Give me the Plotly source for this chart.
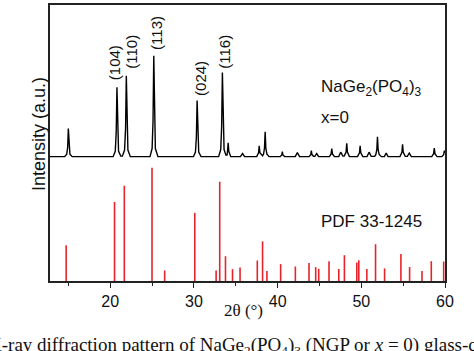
import plotly.graph_objects as go

xrd_2theta = [
    12.8, 14.55, 14.80, 14.91, 14.99, 15.07, 15.18, 15.45,
    20.35, 20.60, 20.71, 20.80, 20.88, 20.99, 21.25,
    21.45, 21.71, 21.83, 21.92, 22.00, 22.11, 22.40,
    24.75, 25.00, 25.11, 25.20, 25.28, 25.39, 25.70,
    29.95, 30.18, 30.29, 30.38, 30.46, 30.57, 30.85,
    32.95, 33.20, 33.31, 33.40, 33.48, 33.60, 33.82,
    33.95, 34.01, 34.09, 34.17, 34.40,
    35.55, 35.81, 36.05,
    37.50, 37.72, 37.80, 37.88, 38.12,
    38.20, 38.32, 38.43, 38.51, 38.59, 38.72, 38.98,
    40.30, 40.50, 40.56, 40.63, 40.85,
    42.10, 42.36, 42.62,
    43.75, 43.96, 44.03, 44.10, 44.30,
    44.45, 44.67, 44.90,
    46.18, 46.39, 46.47, 46.55, 46.78,
    47.30, 47.54, 47.80,
    47.95, 48.18, 48.26, 48.34, 48.58,
    49.55, 49.78, 49.86, 49.94, 50.18,
    50.68, 50.93, 51.18,
    51.60, 51.74, 51.85, 51.93, 52.01, 52.13, 52.40,
    52.75, 52.97, 53.20,
    54.62, 54.85, 54.93, 55.01, 55.25,
    55.50, 55.73, 55.98,
    58.42, 58.64, 58.72, 58.80, 59.05,
    59.62, 59.84, 59.92, 60.00,
]
xrd_intensity = [
    0, 0, 2.5, 9.0, 27.9, 9.0, 2.5, 0,
    0, 5.5, 24, 68.8, 24, 5.5, 0.5,
    0.5, 6.5, 28, 80.0, 28, 6.5, 0,
    0, 8, 35, 100, 35, 8, 0,
    0, 4.5, 19.5, 55.5, 19.5, 4.5, 0,
    0, 7, 29, 83.3, 29, 7, 1.5,
    1.5, 5, 13.8, 5, 0,
    0, 3, 0,
    0, 3.8, 10.8, 3.8, 0.8,
    0.8, 2.5, 8.5, 24.6, 8.5, 2.5, 0,
    0, 1.7, 4.9, 1.7, 0,
    0, 3.9, 0,
    0, 2, 5.9, 2, 0.3,
    0.3, 3, 0,
    0, 2.7, 7.9, 2.7, 0,
    0, 4.4, 0.5,
    0.5, 4.6, 13.3, 4.6, 0,
    0, 3.8, 10.8, 3.8, 0,
    0, 4.4, 0.3,
    0.3, 2.2, 6.8, 19.7, 6.8, 2.2, 0,
    0, 3.4, 0,
    0, 4.3, 12.3, 4.3, 0.3,
    0.3, 3.4, 0,
    0, 2.9, 8.4, 2.9, 0,
    0, 2, 5.9, 3.5,
]

# ---- reference card PDF 33-1245 (stick pattern) ----
pdf_2theta = [14.73, 20.51, 21.68, 24.99, 26.50, 30.10, 32.65, 33.08, 33.77, 34.61,
              35.51, 37.57, 38.20, 38.72, 40.36, 42.12, 43.75, 44.55, 44.91, 46.14,
              47.31, 47.98, 49.46, 49.70, 50.66, 51.70, 52.78, 54.73, 55.77, 57.25,
              58.36, 59.84]
pdf_intensity = [31.6, 69.8, 84.2, 100, 9.3, 60.2, 9.3, 87.7, 21.9, 10.5,
                 11.9, 18.1, 35.1, 8.8, 14.9, 12.8, 15.8, 12.3, 10.8, 17.5,
                 10.5, 22.8, 16.3, 18.4, 10.5, 32.5, 11.1, 23.9, 12.3, 8.8,
                 17.5, 17.2]

# ---- Miller index labels ----
hkl_labels = ["(104)", "(110)", "(113)", "(024)", "(116)"]
hkl_x = [20.51, 22.60, 25.59, 30.69, 33.65]
hkl_y = [93.1, 103.9, 122.6, 77.7, 104.4]

x_ticks = [20, 30, 40, 50, 60]

RED = "#e8232b"
SANS = "Liberation Sans, Arial, sans-serif"
SERIF = "Liberation Serif, Times New Roman, serif"

# stick pattern path built from the card values
stick_x, stick_y = [], []
for t, h in zip(pdf_2theta, pdf_intensity):
    stick_x += [t, t, None]
    stick_y += [0, h, None]

fig = go.Figure()
fig.add_trace(go.Scatter(x=stick_x, y=stick_y, mode="lines",
                         line=dict(color=RED, width=1.6), yaxis="y",
                         showlegend=False, hoverinfo="skip"))
fig.add_trace(go.Scatter(x=xrd_2theta, y=xrd_intensity, mode="lines",
                         line=dict(color="black", width=1.4), yaxis="y2",
                         showlegend=False))

annotations = []
for lab, lx, ly in zip(hkl_labels, hkl_x, hkl_y):
    annotations.append(dict(x=lx, y=ly, xref="x", yref="y2", text=lab, showarrow=False,
                            textangle=-90, font=dict(family=SANS, size=15, color="#111"),
                            xanchor="center", yanchor="middle"))

annotations += [
    dict(x=44.91, y=67.8, xref="x", yref="y2", text="NaGe<sub>2</sub>(PO<sub>4</sub>)<sub>3</sub>",
         showarrow=False, xanchor="left", yanchor="middle",
         font=dict(family=SANS, size=17, color="#111")),
    dict(x=44.91, y=39, xref="x", yref="y2", text="x=0",
         showarrow=False, xanchor="left", yanchor="middle",
         font=dict(family=SANS, size=17, color="#111")),
    dict(x=44.91, y=52.6, xref="x", yref="y", text="PDF 33-1245",
         showarrow=False, xanchor="left", yanchor="middle",
         font=dict(family=SANS, size=17, color="#111")),
    dict(x=-0.0291, y=0.5306, xref="paper", yref="paper", text="Intensity (a.u.)",
         showarrow=False, textangle=-90, xanchor="center", yanchor="middle",
         font=dict(family=SANS, size=18, color="#111")),
    dict(x=0.49, y=-0.108, xref="paper", yref="paper", text="2θ (°)",
         showarrow=False, xanchor="center", yanchor="middle",
         font=dict(family=SERIF, size=17, color="#111")),
    dict(x=-0.162, y=-0.237, xref="paper", yref="paper",
         text="X-ray diffraction pattern of NaGe<sub>2</sub>(PO<sub>4</sub>)<sub>3</sub> (NGP or <i>x</i> = 0) glass-ceramic",
         showarrow=False, xanchor="left", yanchor="middle",
         font=dict(family=SERIF, size=19, color="#111")),
]

fig.update_layout(
    width=474, height=351,
    margin=dict(l=50, r=29, t=3, b=70),
    paper_bgcolor="white", plot_bgcolor="white",
    showlegend=False,
    xaxis=dict(range=[12.8, 60], tickvals=x_ticks, ticks="outside", ticklen=5,
               tickwidth=1.3, tickcolor="#222",
               minor=dict(dtick=5, tick0=0, ticks="outside", ticklen=3, tickcolor="#222"),
               showline=True, linecolor="#222", linewidth=1.6, mirror=True,
               showgrid=False, zeroline=False,
               tickfont=dict(family=SANS, size=16, color="#111")),
    yaxis=dict(range=[0, 243.86], showticklabels=False, ticks="",
               showline=True, linecolor="#222", linewidth=1.6, mirror=True,
               showgrid=False, zeroline=False),
    yaxis2=dict(range=[-123.2, 150.2], overlaying="y", visible=False,
                showgrid=False, zeroline=False),
    annotations=annotations,
)

fig.write_html("out.html")
